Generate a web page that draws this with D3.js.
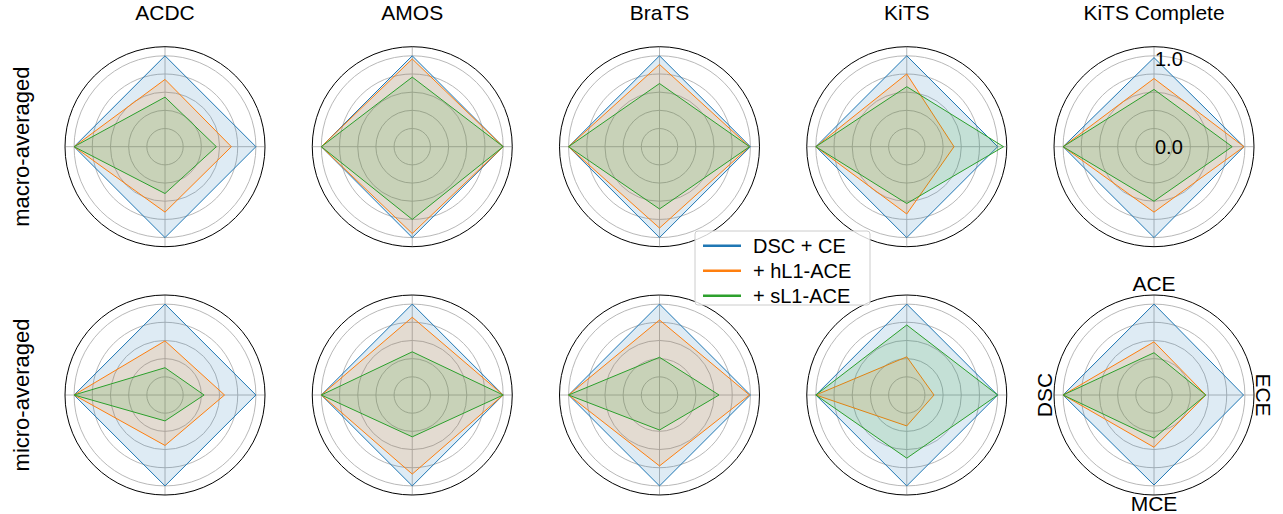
<!DOCTYPE html>
<html><head><meta charset="utf-8">
<script src="https://cdn.jsdelivr.net/npm/d3@7"></script>
<style>body{margin:0;background:#fff}svg{display:block;font-family:"Liberation Sans",Arial,sans-serif}</style>
</head><body><svg id="c" width="1283" height="514"></svg>
<script>
const datasets = ["ACDC","AMOS","BraTS","KiTS","KiTS Complete"];
const rows = ["macro-averaged","micro-averaged"];
const metrics = ["ACE","ECE","MCE","DSC"];
const series = ["DSC + CE","+ hL1-ACE","+ sL1-ACE"];
const colors = ["#1f77b4","#ff7f0e","#2ca02c"];
const rTicks = [0.2,0.4,0.6,0.8,1.0];
const rTickLabels = ["0.0","1.0"];
// values per [ACE, ECE, MCE, DSC]
const macroBase = [[1,1,1,1],[1,1,1,1],[1,1,1,1],[1,1,1,1],[0.98,0.99,1,1]];
const macroHL1  = [[0.74,0.73,0.72,1],[0.965,1,0.955,1],[0.905,0.99,0.895,1],[0.80,0.52,0.74,1],[0.75,0.99,0.72,1]];
const macroSL1  = [[0.545,0.565,0.515,1],[0.765,1,0.80,1],[0.695,0.99,0.685,1],[0.66,1.065,0.625,1],[0.63,0.86,0.60,1]];
const microBase = [[1,1,1,1],[1,1,1,1],[1,1,1,1],[1,1,1,1],[1,0.985,0.99,1]];
const microHL1  = [[0.595,0.655,0.555,1],[0.855,1,0.87,1],[0.825,0.99,0.78,1],[0.42,0.30,0.34,1],[0.585,0.57,0.575,1]];
const microSL1  = [[0.30,0.43,0.285,1],[0.475,1,0.46,1],[0.415,0.655,0.385,1],[0.77,1,0.695,1],[0.465,0.57,0.475,1]];
const values = [[macroBase,macroHL1,macroSL1],[microBase,microHL1,microSL1]];

const svg = d3.select("#c");
const cx = d3.scalePoint().domain(datasets).range([165,1154]);
const cy = d3.scalePoint().domain(rows).range([146.7,395]);
const r = d3.scaleLinear().domain([0,1.1]).range([0,100]);
const ang = d3.scalePoint().domain(metrics.concat(["_"])).range([0,2*Math.PI]);

rows.forEach((row,ri)=>{
  datasets.forEach((ds,di)=>{
    const g = svg.append("g").attr("transform",`translate(${cx(ds)},${cy(row)})`);
    g.selectAll("circle.grid").data(rTicks).join("circle")
      .attr("r",d=>r(d)).attr("fill","none").attr("stroke","#b0b0b0").attr("stroke-width",0.9);
    g.selectAll("line.spoke").data(metrics).join("line")
      .attr("x1",0).attr("y1",0)
      .attr("x2",d=>r(1.1)*Math.sin(ang(d))).attr("y2",d=>-r(1.1)*Math.cos(ang(d)))
      .attr("stroke","#b0b0b0").attr("stroke-width",0.9);
    const line = d3.lineRadial().angle((d,i)=>ang(metrics[i])).radius(d=>r(d)).curve(d3.curveLinearClosed);
    series.forEach((s,si)=>{
      const v = values[ri][si][di];
      g.append("path").attr("d",line(v)).attr("fill",colors[si]).attr("fill-opacity",0.15)
        .attr("stroke",colors[si]).attr("stroke-width",1);
    });
    g.append("circle").attr("r",r(1.1)).attr("fill","none").attr("stroke","#000").attr("stroke-width",1);
    if(ri===0){
      svg.append("text").attr("x",cx(ds)).attr("y",20).attr("text-anchor","middle")
        .attr("font-size",21).text(ds);
    }
    if(ri===0 && di===datasets.length-1){
      g.append("text").attr("x",1).attr("y",r(0)+0.5).attr("dominant-baseline","central")
        .attr("font-size",20).text(rTickLabels[0]);
      g.append("text").attr("x",1).attr("y",-r(1.0)+3).attr("dominant-baseline","central")
        .attr("font-size",20).text(rTickLabels[1]);
    }
    if(ri===1 && di===datasets.length-1){
      const R = r(1.1);
      g.append("text").attr("x",0).attr("y",-R-4).attr("text-anchor","middle").attr("font-size",21).text(metrics[0]);
      g.append("text").attr("x",0).attr("y",R+16).attr("text-anchor","middle").attr("font-size",21).text(metrics[2]);
      g.append("text").attr("transform",`translate(${R+2},0) rotate(90)`).attr("text-anchor","middle").attr("font-size",21).text(metrics[1]);
      g.append("text").attr("transform",`translate(${-R-2},0) rotate(-90)`).attr("text-anchor","middle").attr("font-size",21).text(metrics[3]);
    }
  });
  svg.append("text").attr("transform",`translate(29,${cy(row)}) rotate(-90)`).attr("text-anchor","middle")
    .attr("font-size",22).text(row);
});

// legend
const lg = svg.append("g").attr("transform","translate(695,231)");
lg.append("rect").attr("width",175).attr("height",74).attr("rx",3).attr("fill","#fff").attr("fill-opacity",0.8)
  .attr("stroke","#cccccc").attr("stroke-width",1);
series.forEach((s,i)=>{
  const y = 14.7 + i*25;
  lg.append("line").attr("x1",8).attr("x2",46).attr("y1",y).attr("y2",y).attr("stroke",colors[i]).attr("stroke-width",2.5);
  lg.append("text").attr("x",58).attr("y",y+0.5).attr("dominant-baseline","central").attr("font-size",20).text(s);
});
</script></body></html>
